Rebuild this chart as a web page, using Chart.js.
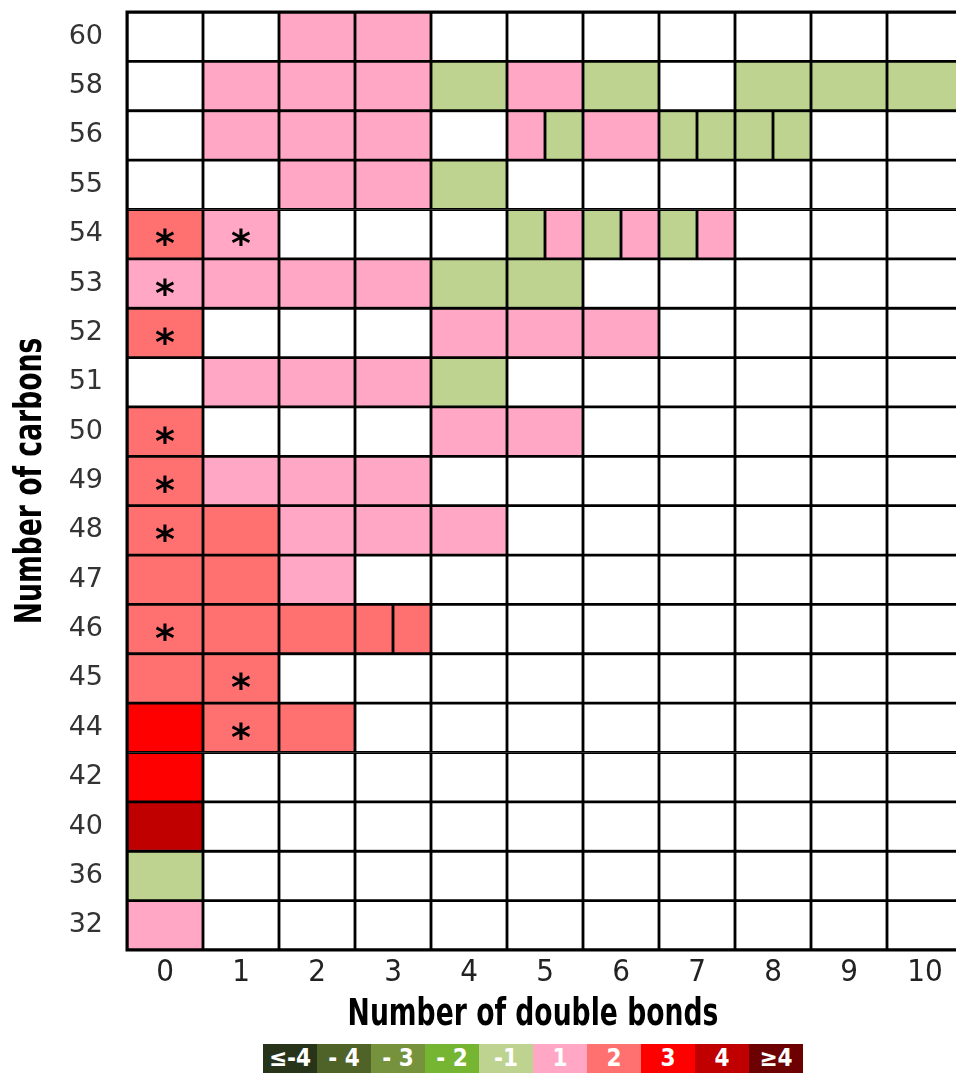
<!DOCTYPE html>
<html lang="en">
<head>
    <meta charset="UTF-8">
    <title>Carbons vs double bonds</title>
    <script src="https://cdn.jsdelivr.net/npm/chart.js"></script>
    <style>
        html, body { margin: 0; padding: 0; background: #fff; overflow: hidden; }
        #wrap { position: relative; width: 964px; height: 1073px; }
        #chart { position: absolute; left: 0; top: 0; }
        .scale { position: absolute; left: 263px; top: 1044px; display: flex; }
        .scale div {
            width: 54px; height: 30px; line-height: 30px; text-align: center;
            color: #fff; font: bold 24px "Liberation Sans Narrow", "DejaVu Sans Condensed", sans-serif;
        }
    </style>
</head>
<body>
    <div id="wrap">
        <canvas id="chart" width="964" height="1036"></canvas>
        <div class="scale" id="scale"></div>
    </div>

    <script>
        // rows (number of carbons), top to bottom
        const carbons = ['60', '58', '56', '55', '54', '53', '52', '51', '50', '49', '48', '47', '46', '45', '44', '42', '40', '36', '32'];
        // columns (number of double bonds)
        const bonds = [0, 1, 2, 3, 4, 5, 6, 7, 8, 9, 10];

        // fold change class per cell, one row per carbon number; [a, b] = split cell
        const row60 = [0, 0, 1, 1, 0, 0, 0, 0, 0, 0, 0];
        const row58 = [0, 1, 1, 1, -1, 1, -1, 0, -1, -1, -1];
        const row56 = [0, 1, 1, 1, 0, [1, -1], 1, [-1, -1], [-1, -1], 0, 0];
        const row55 = [0, 0, 1, 1, -1, 0, 0, 0, 0, 0, 0];
        const row54 = [2, 1, 0, 0, 0, [-1, 1], [-1, 1], [-1, 1], 0, 0, 0];
        const row53 = [1, 1, 1, 1, -1, -1, 0, 0, 0, 0, 0];
        const row52 = [2, 0, 0, 0, 1, 1, 1, 0, 0, 0, 0];
        const row51 = [0, 1, 1, 1, -1, 0, 0, 0, 0, 0, 0];
        const row50 = [2, 0, 0, 0, 1, 1, 0, 0, 0, 0, 0];
        const row49 = [2, 1, 1, 1, 0, 0, 0, 0, 0, 0, 0];
        const row48 = [2, 2, 1, 1, 1, 0, 0, 0, 0, 0, 0];
        const row47 = [2, 2, 1, 0, 0, 0, 0, 0, 0, 0, 0];
        const row46 = [2, 2, 2, [2, 2], 0, 0, 0, 0, 0, 0, 0];
        const row45 = [2, 2, 0, 0, 0, 0, 0, 0, 0, 0, 0];
        const row44 = [3, 2, 2, 0, 0, 0, 0, 0, 0, 0, 0];
        const row42 = [3, 0, 0, 0, 0, 0, 0, 0, 0, 0, 0];
        const row40 = [4, 0, 0, 0, 0, 0, 0, 0, 0, 0, 0];
        const row36 = [-1, 0, 0, 0, 0, 0, 0, 0, 0, 0, 0];
        const row32 = [1, 0, 0, 0, 0, 0, 0, 0, 0, 0, 0];
        const grid = [row60, row58, row56, row55, row54, row53, row52, row51, row50, row49,
                      row48, row47, row46, row45, row44, row42, row40, row36, row32];

        // cells marked with an asterisk: [carbons, double bonds]
        const stars = [['54', 0], ['54', 1], ['53', 0], ['52', 0], ['50', 0], ['49', 0],
                       ['48', 0], ['46', 0], ['45', 1], ['44', 1]];

        // colour scale
        const scaleLabels = ['≤-4', '- 4', '- 3', '- 2', '-1', '1', '2', '3', '4', '≥4'];
        const scaleColors = ['#28341a', '#4f6228', '#76923c', '#76b531', '#bdd38f',
                             '#ffa7c4', '#ff7171', '#ff0000', '#c00000', '#6d0000'];

        const colorFor = { '0': '#ffffff', '-1': '#bdd38f', '-2': '#76b531', '-3': '#76923c', '-4': '#4f6228',
                           '1': '#ffa7c4', '2': '#ff7171', '3': '#ff0000', '4': '#c00000' };

        const xTitle = 'Number of double bonds';
        const yTitle = 'Number of carbons';

        // build one floating bar per cell (or half cell)
        const cells = [];
        const colors = [];
        grid.forEach((row, r) => {
            row.forEach((v, c) => {
                if (Array.isArray(v)) {
                    cells.push({ y: carbons[r], x: [c - 0.5, c] });
                    colors.push(colorFor[v[0]]);
                    cells.push({ y: carbons[r], x: [c, c + 0.5] });
                    colors.push(colorFor[v[1]]);
                } else {
                    cells.push({ y: carbons[r], x: [c - 0.5, c + 0.5] });
                    colors.push(colorFor[v]);
                }
            });
        });

        const narrow = '"Liberation Sans Narrow", "DejaVu Sans Condensed"';

        // frame, asterisks and the squeezed axis titles
        const extras = {
            id: 'extras',
            afterDatasetsDraw(chart) {
                const ctx = chart.ctx;
                const a = chart.chartArea;
                const xs = chart.scales.x, ys = chart.scales.y;
                ctx.save();
                ctx.strokeStyle = '#000';
                ctx.lineWidth = 3;
                ctx.strokeRect(a.left, a.top, a.right - a.left, a.bottom - a.top);
                ctx.fillStyle = '#000';
                ctx.font = 'bold 38px "DejaVu Sans"';
                ctx.textAlign = 'center';
                ctx.textBaseline = 'alphabetic';
                stars.forEach(([cb, db]) => {
                    const x = xs.getPixelForValue(db);
                    const y = ys.getPixelForValue(carbons.indexOf(cb));
                    ctx.fillText('*', x, y + 22);
                });
                ctx.restore();
            },
            afterDraw(chart) {
                const ctx = chart.ctx;
                const xs = chart.scales.x, ys = chart.scales.y;
                ctx.save();
                ctx.fillStyle = '#000';
                ctx.font = 'bold 37px ' + narrow;
                ctx.textAlign = 'center';
                ctx.textBaseline = 'alphabetic';
                // x title
                ctx.save();
                ctx.translate(533, 1025);
                ctx.scale(0.8, 1);
                ctx.fillText(xTitle, 0, 0);
                ctx.restore();
                // y title
                ctx.save();
                ctx.translate(41, (ys.top + ys.bottom) / 2);
                ctx.rotate(-Math.PI / 2);
                ctx.scale(0.8, 1);
                ctx.fillText(yTitle, 0, 0);
                ctx.restore();
                ctx.restore();
            }
        };

        new Chart(document.getElementById('chart').getContext('2d'), {
            type: 'bar',
            data: {
                labels: carbons,
                datasets: [{
                    data: cells,
                    backgroundColor: colors,
                    borderColor: '#000',
                    borderWidth: 1.75,
                    borderSkipped: false,
                    barPercentage: 1,
                    categoryPercentage: 1
                }]
            },
            options: {
                indexAxis: 'y',
                responsive: false,
                animation: false,
                layout: { padding: { top: 12, right: 1, left: 0, bottom: 0 } },
                plugins: { legend: { display: false }, tooltip: { enabled: false } },
                scales: {
                    x: {
                        type: 'linear',
                        min: -0.5,
                        max: 10.5,
                        grid: { display: false, drawTicks: false },
                        border: { display: false },
                        afterBuildTicks: s => { s.ticks = bonds.map(v => ({ value: v })); },
                        afterFit: s => { s.height = 86; s.paddingLeft = 0; s.paddingRight = 0; },
                        ticks: {
                            padding: 4,
                            color: '#222',
                            font: { family: narrow, size: 31 }
                        }
                    },
                    y: {
                        type: 'category',
                        grid: { display: false, drawTicks: false },
                        border: { display: false },
                        afterFit: s => { s.width = 127; s.paddingTop = 0; s.paddingBottom = 0; },
                        ticks: {
                            padding: 24,
                            color: '#333',
                            font: { family: '"DejaVu Sans"', size: 27 }
                        }
                    }
                }
            },
            plugins: [extras]
        });

        // colour scale boxes under the chart
        const scaleBox = document.getElementById('scale');
        scaleLabels.forEach((t, i) => {
            const d = document.createElement('div');
            d.style.background = scaleColors[i];
            d.textContent = t;
            scaleBox.appendChild(d);
        });
    </script>
</body>
</html>
